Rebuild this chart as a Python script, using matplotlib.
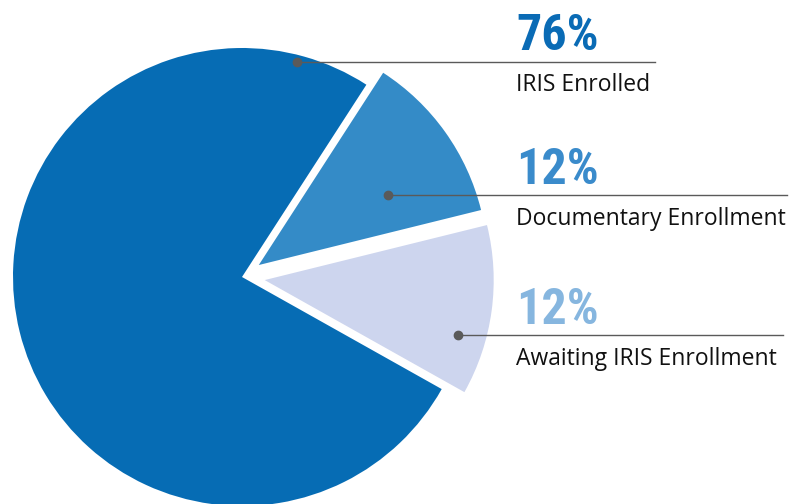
import matplotlib.pyplot as plt

# data
labels = ["Documentary Enrollment", "Awaiting IRIS Enrollment", "IRIS Enrolled"]
values = [12, 12, 76]
pct_text = ["12%", "12%", "76%"]
colors = ["#348bc7", "#cdd5ee", "#066cb4"]
pct_colors = ["#3a8bcb", "#86b6df", "#0a6bb5"]

W, H = 791, 504
fig = plt.figure(figsize=(W / 100, H / 100), dpi=100)

# pie: centre (242, 277) px, radius 229 px
cx, cy, r = 242, 277, 229
ax = fig.add_axes([(cx - r) / W, (H - cy - r) / H, 2 * r / W, 2 * r / H])
wedges, _ = ax.pie(values, colors=colors, startangle=57.1, counterclock=False,
                   explode=[0.09, 0.1, 0], wedgeprops=dict(linewidth=0))
ax.set_xlim(-1, 1)
ax.set_ylim(-1, 1)
ax.set_aspect("auto")
ax.axis("off")

# overlay in pixel coords for leader lines and text
ov = fig.add_axes([0, 0, 1, 1], facecolor="none")
ov.set_xlim(0, W)
ov.set_ylim(H, 0)
ov.axis("off")

# dot x, line y, line end x, pct baseline, label baseline
anno = {
    "IRIS Enrolled": (297, 61.5, 655, 50, 90.7),
    "Documentary Enrollment": (388, 194.5, 787, 183.5, 225),
    "Awaiting IRIS Enrollment": (458, 334.5, 783, 323.5, 365),
}
for lab, pct, pc in zip(labels, pct_text, pct_colors):
    dx, ly, ex, pb, lb = anno[lab]
    ov.plot([dx, ex], [ly, ly], color="#5a5a5a", lw=1.0)
    ov.plot(dx, ly, "o", color="#5a5a5a", ms=6)
    ov.text(516, pb, pct, color=pc, fontsize=36, fontweight="bold",
            family=["Roboto Condensed", "DejaVu Sans"], va="baseline", ha="left")
    ov.text(516, lb, lab, color="#111111", fontsize=16.5,
            family=["Open Sans", "DejaVu Sans"], va="baseline", ha="left")

fig.savefig("out.png", dpi=100)
